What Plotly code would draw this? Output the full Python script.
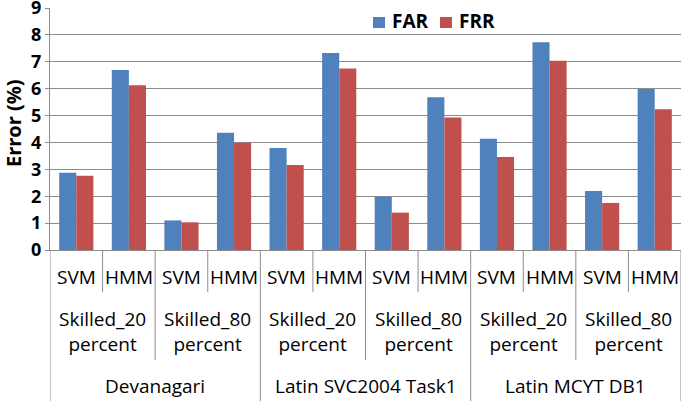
import plotly.graph_objects as go

methods = ["SVM", "HMM"] * 6
settings = ["Skilled_20<br>percent", "Skilled_80<br>percent"] * 3
datasets = ["Devanagari", "Latin SVC2004 Task1", "Latin MCYT DB1"]

far = [2.87, 6.69, 1.10, 4.36, 3.79, 7.33, 1.98, 5.68, 4.14, 7.73, 2.19, 5.99]
frr = [2.76, 6.13, 1.03, 3.99, 3.16, 6.75, 1.39, 4.93, 3.46, 7.04, 1.75, 5.23]

y_ticks = list(range(0, 10))

FONT = "Open Sans"
BLUE = "#4F81BD"
RED = "#C0504D"
GRID = "#8c8c8c"

W, H = 685, 403
PL, PR, PT, PB = 50, 681, 8, 250   # plot area in pixels
PW, PH = PR - PL, PB - PT


def px_x(page_x):
    return (page_x - PL) / PW


def px_y(page_y):
    return (PB - page_y) / PH


idx = list(range(len(methods)))

fig = go.Figure()
fig.add_trace(go.Bar(x=idx, y=far, name="FAR", marker=dict(color=BLUE, line=dict(width=0))))
fig.add_trace(go.Bar(x=idx, y=frr, name="FRR", marker=dict(color=RED, line=dict(width=0))))

shapes = []
n = len(methods)
for b in range(n + 1):
    xb = b - 0.5
    if b % 4 == 0:
        end = 401
    elif b % 2 == 0:
        end = 360
    else:
        end = 292
    shapes.append(dict(type="line", xref="x", yref="paper", x0=xb, x1=xb,
                       y0=0, y1=px_y(end), line=dict(color=GRID, width=1)))

# manual legend
legend_items = [("FAR", BLUE, 373), ("FRR", RED, 440)]
annotations = []
for name, col, lx in legend_items:
    shapes.append(dict(type="rect", xref="paper", yref="paper",
                       x0=px_x(lx), x1=px_x(lx + 12), y0=px_y(28), y1=px_y(17),
                       fillcolor=col, line=dict(width=0)))
    annotations.append(dict(x=px_x(lx + 17), y=px_y(21), xref="paper", yref="paper", text=name,
                            showarrow=False, xanchor="left", yanchor="middle",
                            font=dict(family=FONT, size=19, color="#000", weight="bold")))

for i, m in enumerate(methods):
    annotations.append(dict(x=i, y=px_y(277), xref="x", yref="paper", text=m,
                            showarrow=False, font=dict(family=FONT, size=19, color="#000"),
                            xanchor="center", yanchor="middle"))
for j, s in enumerate(settings):
    annotations.append(dict(x=2 * j + 0.5, y=px_y(331), xref="x", yref="paper", text=s,
                            showarrow=False, font=dict(family=FONT, size=19, color="#000"),
                            xanchor="center", yanchor="middle"))
for k, d in enumerate(datasets):
    annotations.append(dict(x=4 * k + 1.5, y=px_y(386), xref="x", yref="paper", text=d,
                            showarrow=False, font=dict(family=FONT, size=19, color="#000"),
                            xanchor="center", yanchor="middle"))

# y-axis title
annotations.append(dict(x=px_x(13), y=px_y(123), xref="paper", yref="paper", text="Error (%)",
                        textangle=-90, showarrow=False, xanchor="center", yanchor="middle",
                        font=dict(family=FONT, size=20, color="#000", weight="bold")))

fig.update_layout(
    width=W, height=H,
    margin=dict(l=PL, r=W - PR, t=PT, b=H - PB, autoexpand=False),
    plot_bgcolor="white", paper_bgcolor="white",
    barmode="group", bargap=0.35, bargroupgap=0,
    showlegend=False,
    xaxis=dict(range=[-0.5, n - 0.5], showticklabels=False, showgrid=False, automargin=False,
               zeroline=False, showline=True, linecolor=GRID, linewidth=1, ticks=""),
    yaxis=dict(range=[0, 9], tickvals=y_ticks, showgrid=True, gridcolor=GRID, gridwidth=1,
               zeroline=False, showline=True, linecolor=GRID, linewidth=1, automargin=False,
               ticks="outside", ticklen=4, tickcolor=GRID, ticklabeloverflow="allow",
               tickfont=dict(family=FONT, size=18, color="#000", weight="bold")),
    shapes=shapes,
    annotations=annotations,
)

fig.write_html("out.html", config={"displayModeBar": False},
               post_script="document.body.style.margin='0';")
